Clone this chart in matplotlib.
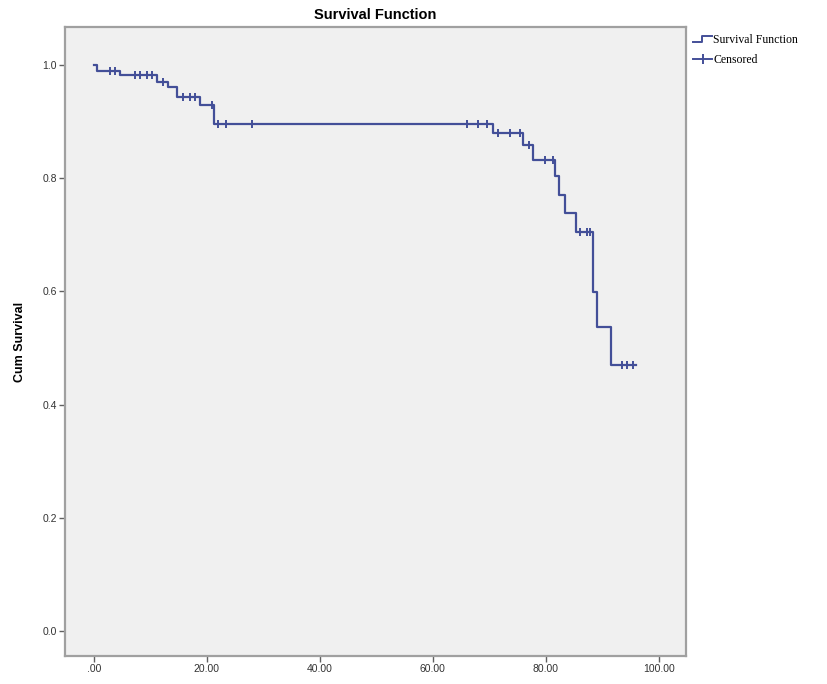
import numpy as np
import matplotlib.pyplot as plt
from matplotlib.lines import Line2D
from matplotlib.legend_handler import HandlerBase

# Kaplan-Meier step values
event_times = [0.0, 0.5, 4.6, 11.2, 13.1, 14.7, 18.8, 21.2, 70.6, 75.9,
               77.7, 81.6, 82.3, 83.4, 85.3, 88.3, 89.0, 91.5]
surv = [1.0, 0.990, 0.982, 0.970, 0.961, 0.943, 0.929, 0.896, 0.880, 0.859,
        0.832, 0.804, 0.770, 0.739, 0.705, 0.599, 0.537, 0.470]
last_time = 96.0
censored_times = [2.8, 3.7, 7.3, 8.1, 9.4, 10.3, 12.2, 15.7, 17.0, 17.9,
                  20.9, 22.0, 23.4, 28.0, 66.0, 68.0, 69.6, 71.5, 73.6, 75.4,
                  77.0, 79.8, 81.2, 86.0, 87.3, 87.8, 93.5, 94.3, 95.4]

x_ticks = [0, 20, 40, 60, 80, 100]
x_labels = ['.00', '20.00', '40.00', '60.00', '80.00', '100.00']
y_ticks = [0.0, 0.2, 0.4, 0.6, 0.8, 1.0]
y_labels = ['0.0', '0.2', '0.4', '0.6', '0.8', '1.0']

line_col = '#434f98'
sans = ['Liberation Sans', 'DejaVu Sans']


class StepHandler(HandlerBase):
    # little step icon like the SPSS legend
    def create_artists(self, legend, orig_handle, xd, yd, width, height,
                       fontsize, trans):
        xs = [xd, xd + width * 0.45, xd + width * 0.45, xd + width]
        ys = [yd + height * 0.1, yd + height * 0.1,
              yd + height * 0.9, yd + height * 0.9]
        ln = Line2D(xs, ys, color=orig_handle.get_color(),
                    lw=orig_handle.get_linewidth(), transform=trans)
        return [ln]


fig = plt.figure(figsize=(8.27, 6.84), dpi=100)
ax = fig.add_axes([0.0786, 0.041, 0.751, 0.9195])
ax.set_facecolor('#f0f0f0')

# survival curve
xs = list(event_times) + [last_time]
ys = list(surv) + [surv[-1]]
ax.step(xs, ys, where='post', color=line_col, lw=1.6)

# censor marks sit on the curve
idx = np.searchsorted(event_times, censored_times, side='right') - 1
cens_s = np.array(surv)[idx]
ax.plot(censored_times, cens_s, linestyle='none', marker='|',
        markersize=6, mew=1.4, color=line_col)

ax.set_xlim(-5.1, 104.8)
ax.set_ylim(-0.044, 1.067)
ax.set_xticks(x_ticks)
ax.set_xticklabels(x_labels, family=sans)
ax.set_yticks(y_ticks)
ax.set_yticklabels(y_labels, family=sans)
ax.tick_params(direction='out', length=4, width=1, color='#606060',
               labelsize=7.5, labelcolor='#333333', pad=2)

for s in ax.spines.values():
    s.set_color('#a0a0a0')
    s.set_linewidth(1.6)

ax.set_title('Survival Function', fontsize=10.5, fontweight='bold', pad=6,
             family=sans)
ax.set_ylabel('Cum Survival', fontsize=9, fontweight='bold', labelpad=12,
              family=sans)

step_h = Line2D([], [], color=line_col, lw=1.4)
cens_h = Line2D([], [], color=line_col, lw=1.4, marker='|', markersize=7,
                mew=1.4)
ax.legend([step_h, cens_h], ['Survival Function', 'Censored'],
          handler_map={step_h: StepHandler()},
          loc='upper left', bbox_to_anchor=(1.0, 1.0), frameon=False,
          prop={'family': 'Liberation Serif', 'size': 8.5},
          handlelength=1.6, handletextpad=0.1, labelspacing=0.65,
          borderaxespad=0.2)

plt.savefig('out.png', dpi=100)
